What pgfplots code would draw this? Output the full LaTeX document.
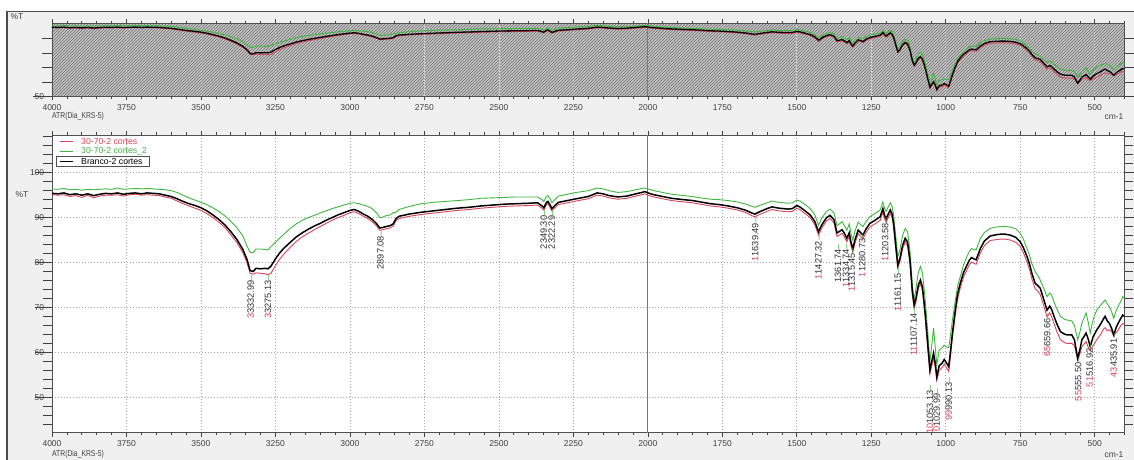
\documentclass[border=0pt]{standalone}
\usepackage{fontspec}
\setmainfont{Liberation Sans}
\usepackage{pgfplots}
\pgfplotsset{compat=1.18}
\usepackage{pgfplotstable}
\usetikzlibrary{patterns}
\definecolor{winbg}{HTML}{F0F0F0}
\definecolor{specred}{HTML}{D9445A}
\definecolor{specgreen}{HTML}{3DB83D}
\definecolor{gridgray}{HTML}{A8A8A8}
\definecolor{cursorgray}{HTML}{7A7A7A}
\definecolor{tickcol}{HTML}{404040}
\definecolor{framecol}{HTML}{505050}
\definecolor{labcol}{HTML}{303030}

\pgfplotstableread{
wn b g r
4000 95.4 96.4 95.1
3980 95.3 96.3 95.0
3960 95.5 96.5 95.1
3940 95.1 96.2 94.7
3920 95.3 96.3 94.9
3900 95.0 96.1 94.5
3880 95.3 96.3 95.0
3860 94.9 96.2 94.4
3840 95.2 96.3 94.8
3820 95.4 96.4 95.0
3800 95.3 96.3 95.0
3780 95.5 96.6 95.1
3760 95.2 96.3 94.8
3740 95.4 96.4 95.1
3720 95.5 96.5 95.2
3700 95.3 96.4 95.0
3680 95.5 96.5 95.1
3660 95.4 96.4 95.0
3640 95.3 96.3 94.9
3620 95.0 96.2 94.6
3600 94.7 96.0 94.3
3580 94.2 95.6 93.7
3560 93.6 95.0 93.1
3540 93.1 94.4 92.6
3520 92.7 93.9 92.1
3500 92.2 93.4 91.6
3480 91.5 92.9 90.9
3460 90.6 92.2 90.0
3440 89.6 91.4 89.0
3420 88.4 90.4 87.8
3400 86.9 89.2 86.2
3380 85.2 87.8 84.5
3360 83.0 86.0 82.3
3345 80.6 83.6 79.9
3335 78.2 82.3 77.6
3325 78.0 82.2 77.4
3315 78.7 83.0 77.7
3300 78.6 83.0 77.6
3285 78.7 82.9 77.5
3275 78.6 82.8 77.3
3265 79.2 83.5 77.6
3250 80.8 84.5 79.3
3235 82.2 85.5 80.8
3220 83.3 86.4 82.0
3200 84.5 87.6 83.4
3180 85.7 88.6 84.7
3160 86.6 89.4 85.7
3140 87.4 90.0 86.5
3120 88.1 90.5 87.3
3100 88.7 91.0 88.0
3080 89.4 91.5 88.7
3060 90.0 92.0 89.4
3040 90.6 92.4 90.0
3020 91.1 92.8 90.5
3000 91.6 93.2 91.1
2985 91.8 93.3 91.3
2970 91.4 93.1 90.9
2955 90.8 92.8 90.3
2940 90.3 92.5 89.8
2925 89.6 92.0 89.1
2910 88.6 91.0 88.1
2900 87.7 90.0 87.2
2890 87.8 90.1 87.3
2880 88.0 90.4 87.5
2865 88.2 90.6 87.7
2855 88.6 91.1 88.1
2845 89.8 91.2 89.3
2835 90.3 91.8 89.8
2800 90.8 92.5 90.3
2760 91.2 93.1 90.7
2720 91.5 93.4 91.0
2680 91.8 93.6 91.3
2640 92.1 93.8 91.6
2600 92.3 94.0 91.8
2560 92.6 94.3 92.1
2520 92.8 94.4 92.3
2480 93.0 94.5 92.5
2440 93.1 94.6 92.6
2400 93.2 94.6 92.7
2370 93.3 94.6 92.8
2355 92.6 94.0 92.1
2349 92.2 93.6 91.7
2340 93.4 94.7 92.9
2335 93.6 94.9 93.1
2328 92.8 94.2 92.3
2322 92.0 93.3 91.5
2312 92.7 94.0 92.2
2300 93.4 94.8 92.9
2270 93.8 95.2 93.3
2240 94.2 95.6 93.7
2200 94.7 96.0 94.2
2170 95.5 96.6 95.0
2150 95.3 96.4 94.8
2130 94.9 96.0 94.4
2100 94.6 95.6 94.1
2070 94.8 95.8 94.3
2040 95.3 96.2 94.8
2020 95.6 96.5 95.1
2010 95.8 96.6 95.3
1995 95.4 96.3 94.9
1980 95.1 96.0 94.6
1950 94.7 95.6 94.2
1920 94.3 95.2 93.8
1880 94.0 94.9 93.5
1850 93.8 94.7 93.3
1824 93.5 94.4 93.0
1790 93.1 94.1 92.6
1760 92.9 94.0 92.4
1730 92.6 93.8 92.1
1700 92.2 93.5 91.7
1670 91.6 93.0 91.1
1650 91.0 92.5 90.4
1640 90.8 92.3 90.2
1625 91.3 92.7 90.7
1600 92.0 93.3 91.4
1583 92.4 93.7 91.8
1560 92.1 93.4 91.5
1530 91.9 93.2 91.3
1515 92.0 93.3 91.4
1500 92.7 93.9 92.1
1490 92.4 93.7 91.8
1470 91.4 92.8 90.8
1455 90.6 92.0 90.0
1440 89.2 90.7 88.5
1427 86.9 88.3 86.1
1415 88.5 90.0 87.8
1400 90.0 91.4 89.3
1388 90.5 91.9 89.8
1375 89.5 91.0 88.8
1365 86.6 88.2 85.8
1355 87.0 88.7 86.2
1348 87.3 89.1 86.5
1340 86.5 88.2 85.7
1332 85.4 87.2 84.6
1324 86.6 88.6 85.8
1318 84.5 86.4 83.7
1312 83.1 85.0 82.3
1305 85.0 86.9 84.2
1294 87.2 89.0 86.4
1285 86.6 88.4 85.8
1278 86.1 88.0 85.3
1268 87.4 89.1 86.6
1255 88.7 90.2 87.9
1240 89.3 90.8 88.5
1220 90.2 91.7 89.4
1211 92.0 93.5 91.2
1205 90.5 92.0 89.7
1200 89.7 91.4 88.9
1193 90.8 92.4 90.0
1186 91.7 93.3 90.9
1180 90.8 92.5 90.0
1175 88.7 90.6 87.9
1168 84.0 86.0 83.2
1161 79.4 81.3 78.8
1154 80.8 82.8 80.1
1145 83.8 86.0 83.0
1136 85.4 87.6 84.6
1128 84.5 86.8 83.7
1120 80.5 82.6 79.7
1112 73.5 75.0 72.7
1106 70.6 71.7 69.8
1100 72.0 74.2 71.2
1092 75.0 77.8 74.2
1085 76.1 79.1 75.3
1078 74.5 77.6 73.6
1069 68.7 71.8 67.8
1060 61.5 64.2 60.5
1053 56.1 58.0 55.2
1047 58.0 61.5 57.0
1041 59.8 65.4 58.8
1035 57.5 61.0 56.5
1030 54.6 57.2 53.7
1022 57.0 60.5 56.0
1012 57.6 61.0 56.6
1005 58.4 61.6 57.4
997 57.6 61.2 56.5
990 56.8 61.0 55.7
985 59.6 63.3 58.5
978 64.0 67.0 62.9
968 69.4 71.5 68.3
960 73.0 74.8 71.9
951 75.4 76.9 74.4
940 77.8 79.5 76.8
929 79.4 81.3 78.4
920 80.6 82.6 79.6
913 81.1 83.1 80.1
905 80.8 82.9 79.8
898 80.6 82.8 79.6
890 82.0 84.2 81.0
884 83.1 85.4 82.1
870 84.8 86.7 83.8
851 85.9 87.6 84.9
830 86.2 87.9 85.1
817 86.3 88.0 85.2
800 86.3 88.0 85.2
783 86.1 87.9 85.0
765 85.6 87.5 84.5
750 84.6 86.5 83.6
740 83.4 85.3 82.3
727 81.3 83.1 80.1
718 79.5 81.4 78.3
711 77.6 79.8 76.4
700 75.4 78.0 74.2
690 74.8 77.0 73.5
683 74.3 76.1 72.9
672 72.0 74.4 70.6
660 69.4 72.4 67.9
651 70.3 73.2 68.8
645 69.6 72.8 68.0
638 68.3 71.5 66.7
628 66.5 69.8 64.8
615 64.6 68.0 62.8
600 64.0 67.3 62.1
593 63.9 67.2 62.0
577 63.9 67.0 62.0
568 62.8 66.0 61.5
557 58.7 62.8 58.2
550 60.5 64.4 59.6
543 62.8 66.5 61.3
536 63.5 67.6 61.8
529 64.3 68.8 62.4
522 63.0 66.8 61.2
515 61.3 64.3 60.4
505 63.5 67.4 61.5
493 65.0 69.4 62.8
480 66.3 70.5 64.0
470 67.5 71.3 65.2
465 68.0 71.7 65.5
458 67.0 70.8 64.8
451 66.5 70.2 65.0
443 65.3 69.0 64.6
436 63.9 67.6 63.6
428 65.5 69.3 64.4
421 66.5 70.3 65.0
412 67.6 71.4 66.0
406 68.3 72.4 66.4
400 68.0 72.0 66.2
}\spectra

\pgfplotsset{
  ftir/.style={
    scale only axis, x dir=reverse, xmin=400, xmax=4000,
    width=1072.5pt,
    xtick={500,750,...,4000}, minor xtick={400,450,...,4000},
    tick align=outside,
    xtick style={/pgfplots/major tick length=4pt, /pgfplots/minor tick length=2.5pt, tickcol, line width=0.6pt},
    /pgf/number format/1000 sep={},
    /pgf/number format/assume math mode=true,
    tick label style={font=\fontsize{8.5}{10}\selectfont, text=tickcol},
    axis line style={framecol, line width=0.8pt},
    extra x ticks={2000}, extra x tick labels={},
    extra x tick style={grid=major, major grid style={solid, cursorgray, line width=1.3pt}},
  },
}
\tikzset{pk/.style={rotate=90, anchor=east, font=\fontsize{9.2}{10}\selectfont, text=labcol, inner sep=0.5pt},
  lg/.style={anchor=west, font=\fontsize{8.7}{9}\selectfont, inner sep=0pt}}

\begin{document}
\begin{tikzpicture}[x=1pt,y=1pt]
\useasboundingbox (0,0) rectangle (1134,460);
\fill[white] (0,0) rectangle (1134,460);
\fill[winbg] (7,0) rectangle (1134,448.3);
\draw[gray!60!black, line width=1.3pt] (7,0) -- (7,448.3) -- (1134,448.3);

% ---------- overview panel ----------
\begin{axis}[ftir,
  at={(52pt,363.5pt)}, anchor=south west,
  height=73.2pt, ymin=50, ymax=98,
  axis background/.style={fill=gray!45, postaction={pattern=north east lines, pattern color=gray!85!black}},
  ytick={50}, minor ytick={59.5,69,78.5,88},
  ytick style={/pgfplots/major tick length=19pt, /pgfplots/minor tick length=10pt, tickcol, line width=0.6pt},
  xmajorgrids, major grid style={dash pattern=on 1pt off 2pt, white!75!gray, line width=0.7pt},
]
\addplot[specred, line width=0.9pt] table[x=wn, y=r] {\spectra};
\addplot[specgreen, line width=0.9pt] table[x=wn, y=g] {\spectra};
\addplot[black, line width=1.3pt] table[x=wn, y=b] {\spectra};
\end{axis}

% ---------- main panel ----------
\begin{axis}[ftir,
  at={(52pt,27.3pt)}, anchor=south west,
  height=297.7pt, ymin=42.1, ymax=108.4,
  axis background/.style={fill=white},
  ytick={50,60,...,100}, minor ytick={44,46,...,108},
  ytick style={/pgfplots/major tick length=17pt, /pgfplots/minor tick length=9pt, tickcol, line width=0.6pt},
  grid=major, major grid style={dash pattern=on 1pt off 2pt, gridgray, line width=0.7pt},
]
\addplot[specred, line width=0.9pt] table[x=wn, y=r] {\spectra};
\addplot[specgreen, line width=0.9pt] table[x=wn, y=g] {\spectra};
\addplot[black, line width=1.5pt] table[x=wn, y=b] {\spectra};

\node[pk] at (axis cs:3332.99,77.3) {\textcolor{specred}{3}3332.99\textcolor{specgreen}{--}};
\node[pk] at (axis cs:3275.13,77.3) {\textcolor{specred}{3}3275.13\textcolor{specgreen}{--}};
\node[pk] at (axis cs:2897.08,87.2) {2897.08\textcolor{specgreen}{--}};
\node[pk] at (axis cs:2349.30,91.7) {2349.30\textcolor{specgreen}{--}};
\node[pk] at (axis cs:2322.29,91.7) {2322.29\textcolor{specgreen}{--}};
\node[pk] at (axis cs:1639.49,90.1) {\textcolor{specred}{1}1639.49\textcolor{specgreen}{--}};
\node[pk] at (axis cs:1427.32,86.1) {\textcolor{specred}{1}1427.32\textcolor{specgreen}{--}};
\node[pk] at (axis cs:1361.74,84.3) {1361.74\textcolor{specgreen}{--}};
\node[pk] at (axis cs:1334.74,84.3) {\textcolor{specred}{1}1334.74\textcolor{specgreen}{--}};
\node[pk] at (axis cs:1315.45,83.4) {\textcolor{specred}{1}1315.45\textcolor{specgreen}{--}};
\node[pk] at (axis cs:1280.73,86.6) {\textcolor{specred}{1}1280.73\textcolor{specgreen}{--}};
\node[pk] at (axis cs:1203.58,90.1) {\textcolor{specred}{1}1203.58\textcolor{specgreen}{--}};
\node[pk] at (axis cs:1161.15,78.8) {\textcolor{specred}{1}1161.15\textcolor{specgreen}{--}};
\node[pk] at (axis cs:1107.14,69.9) {\textcolor{specred}{11}1107.14\textcolor{specgreen}{--}};
\node[pk] at (axis cs:1053.13,52.8) {\textcolor{specred}{10}1053.13\textcolor{specgreen}{--}};
\node[pk] at (axis cs:1029.99,52.1) {\textcolor{specred}{10}1029.99\textcolor{specgreen}{--}};
\node[pk] at (axis cs:990.13,54.6) {\textcolor{specred}{99}990.13\textcolor{specgreen}{--}};
\node[pk] at (axis cs:659.66,68.8) {\textcolor{specred}{65}659.66\textcolor{specgreen}{--}};
\node[pk] at (axis cs:555.50,59.0) {\textcolor{specred}{55}555.50\textcolor{specgreen}{--}};
\node[pk] at (axis cs:516.92,62.1) {\textcolor{specred}{51}516.92\textcolor{specgreen}{--}};
\node[pk] at (axis cs:435.91,64.3) {\textcolor{specred}{43}435.91\textcolor{specgreen}{--}};
\end{axis}

% legend
\draw[specred, line width=0.9pt] (60,318.3) -- (73,318.3);
\node[lg, text=specred] at (81,318.3) {30-70-2 cortes};
\draw[specgreen, line width=0.9pt] (60,308.7) -- (73,308.7);
\node[lg, text=specgreen] at (81,308.7) {30-70-2 cortes\_2};
\draw[black, line width=1.5pt] (60,298.5) -- (73,298.5);
\node[lg, text=black] at (81,298.5) {Branco-2 cortes};
\draw[framecol, line width=0.6pt] (56,293.8) rectangle (149,303.3);

\node[font=\fontsize{8.5}{9}\selectfont, text=tickcol] at (17,443) {\%T};
\node[font=\fontsize{8.5}{9}\selectfont, text=tickcol] at (22,265) {\%T};
\node[font=\fontsize{8.5}{9}\selectfont, text=tickcol, anchor=west, inner sep=0pt] at (52,343.3) {\scalebox{0.8}[1]{ATR(Dia\_KRS-5)}};
\node[font=\fontsize{8.5}{9}\selectfont, text=tickcol, anchor=west, inner sep=0pt] at (52,6) {\scalebox{0.8}[1]{ATR(Dia\_KRS-5)}};
\node[font=\fontsize{8.5}{9}\selectfont, text=tickcol] at (1114,343.3) {cm-1};
\node[font=\fontsize{8.5}{9}\selectfont, text=tickcol] at (1114,5.5) {cm-1};
\end{tikzpicture}
\end{document}
